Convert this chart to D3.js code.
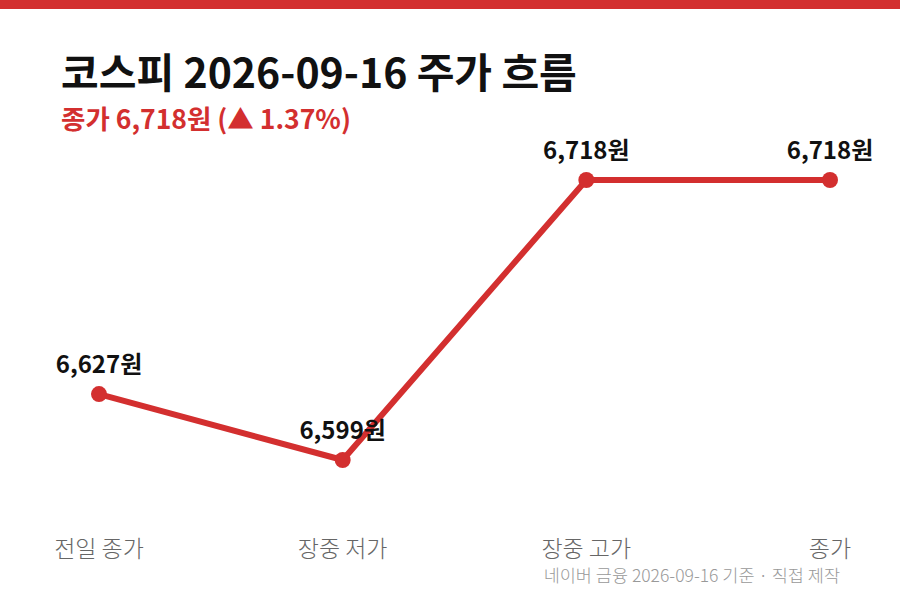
<!DOCTYPE html>
<html>
<head>
<meta charset="utf-8">
<script src="https://cdn.jsdelivr.net/npm/d3@7"></script>
<style>
  body { margin: 0; background: #fff; }
  svg { display: block; font-family: "Noto Sans CJK KR", "Noto Sans", sans-serif; }
</style>
</head>
<body>
<svg id="chart" width="900" height="600"></svg>
<script>
// Data
var categories = ["전일 종가", "장중 저가", "장중 고가", "종가"];
var prices = [6627, 6599, 6718, 6718];
var titleText = "코스피 2026-09-16 주가 흐름";
var subText = "종가 6,718원 (▲ 1.37%)";
var sourceText = "네이버 금융 2026-09-16 기준 · 직접 제작";

var red = "#d32f2f";
var width = 900, height = 600;
var svg = d3.select("#chart");

// top bar
svg.append("rect").attr("x", 0).attr("y", 0).attr("width", width).attr("height", 9).attr("fill", red);

// titles
svg.append("text").attr("x", 61).attr("y", 88)
  .attr("font-size", 41).attr("font-weight", 700).attr("fill", "#111")
  .text(titleText);
svg.append("text").attr("x", 61).attr("y", 129)
  .attr("font-size", 26.5).attr("font-weight", 700).attr("fill", red)
  .text(subText);

// scales
var x = d3.scalePoint().domain(categories).range([99, 830]);
var y = d3.scaleLinear().domain([d3.min(prices), d3.max(prices)]).range([460, 180]);

var pts = categories.map(function (c, i) { return { c: c, v: prices[i] }; });

var line = d3.line()
  .x(function (d) { return x(d.c); })
  .y(function (d) { return y(d.v); });

svg.append("path").datum(pts)
  .attr("d", line)
  .attr("fill", "none")
  .attr("stroke", red)
  .attr("stroke-width", 6)
  .attr("stroke-linejoin", "round");

svg.selectAll("circle.pt").data(pts).enter()
  .append("circle").attr("class", "pt")
  .attr("cx", function (d) { return x(d.c); })
  .attr("cy", function (d) { return y(d.v); })
  .attr("r", 8)
  .attr("fill", red);

svg.selectAll("text.val").data(pts).enter()
  .append("text").attr("class", "val")
  .attr("x", function (d) { return x(d.c); })
  .attr("y", function (d) { return y(d.v) - 21; })
  .attr("text-anchor", "middle")
  .attr("font-size", 24).attr("font-weight", 700).attr("fill", "#111")
  .text(function (d) { return d3.format(",")(d.v) + "원"; });

// category labels
svg.selectAll("text.cat").data(categories).enter()
  .append("text").attr("class", "cat")
  .attr("x", function (d) { return x(d); })
  .attr("y", 557)
  .attr("text-anchor", "middle")
  .attr("font-size", 23).attr("font-weight", 300).attr("fill", "#666")
  .text(function (d) { return d; });

// source
svg.append("text").attr("x", 840).attr("y", 582)
  .attr("text-anchor", "end")
  .attr("font-size", 17.5).attr("font-weight", 300).attr("fill", "#999")
  .text(sourceText);
</script>
</body>
</html>
